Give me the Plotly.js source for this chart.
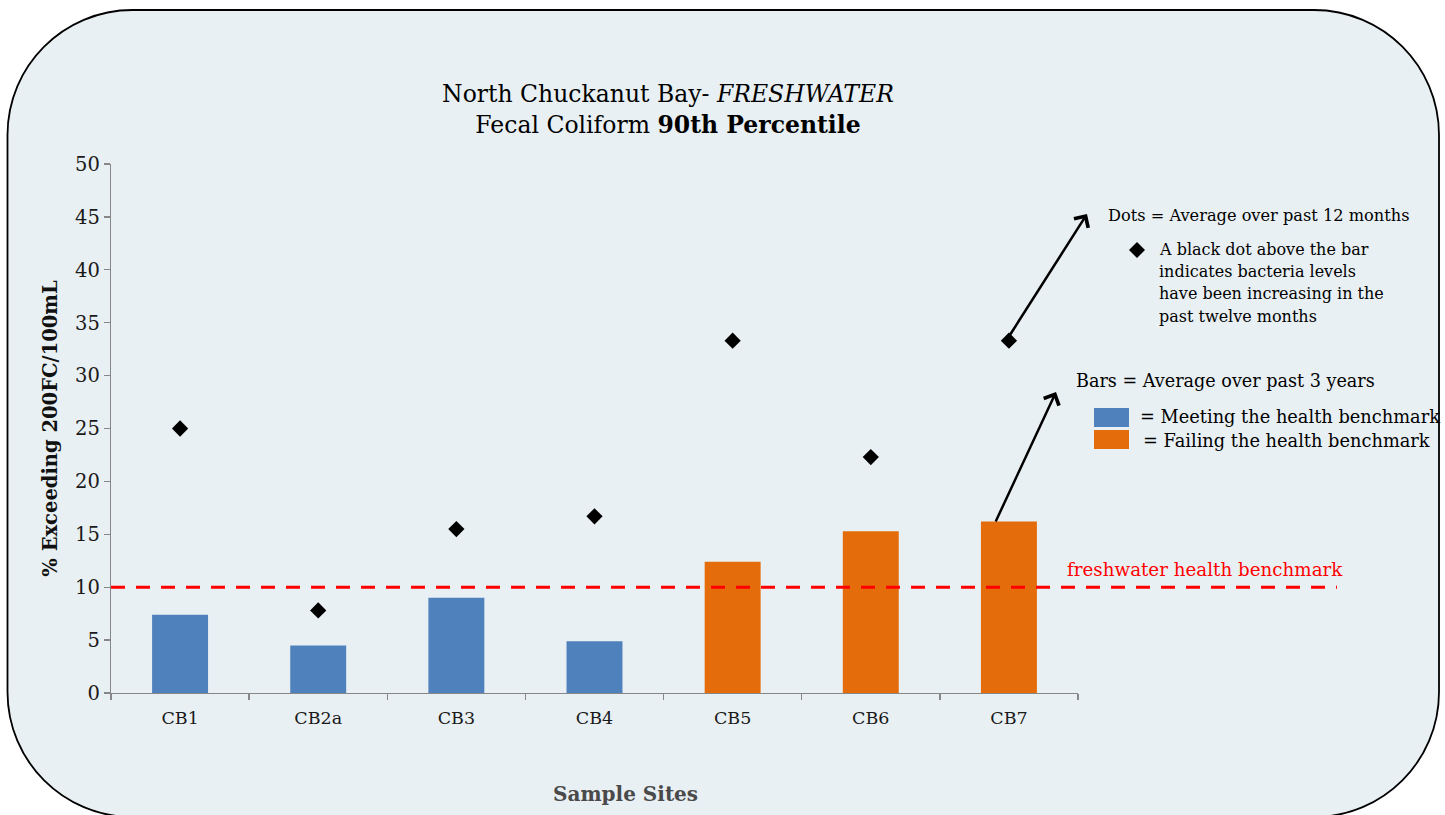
<!DOCTYPE html>
<html><head><meta charset="utf-8">
<script src="https://cdn.plot.ly/plotly-3.0.1.min.js"></script>
<style>html,body{margin:0;padding:0;background:#fff;}#chart{width:1445px;height:815px;}</style>
</head><body><div id="chart"></div>
<script>
// ---- data ----
const sites = ['CB1', 'CB2a', 'CB3', 'CB4', 'CB5', 'CB6', 'CB7'];
const barValues = [7.4, 4.5, 9.0, 4.9, 12.4, 15.3, 16.2];   // average over past 3 years
const dotValues = [25.0, 7.8, 15.5, 16.7, 33.3, 22.3, 33.3]; // average over past 12 months
const benchmark = 10;
const yTickVals = [0, 5, 10, 15, 20, 25, 30, 35, 40, 45, 50];

const titleText = 'North Chuckanut Bay- <i>FRESHWATER</i><br>Fecal Coliform <b>90th Percentile</b>';
const yTitle = '<b>% Exceeding 200FC/100mL</b>';
const xTitle = '<b>Sample Sites</b>';
const benchmarkLabel = 'freshwater health benchmark';
const dotsNote = 'Dots = Average over past 12 months';
const dotsDetail = ['A black dot above the bar', 'indicates bacteria levels', 'have been increasing in the', 'past twelve months'];
const barsNote = 'Bars = Average over past 3 years';
const meetLabel = '= Meeting the health benchmark';
const failLabel = '= Failing the health benchmark';

// ---- style ----
const BLUE = '#4F81BD', ORANGE = '#E46C0A', BG = '#E9F0F3', AX = '#878787';
const FONT = 'DejaVu Serif';
const W = 1445, H = 815;
const M = {l: 111, r: 367, t: 164, b: 122};
const PW = W - M.l - M.r, PH = H - M.t - M.b;
const px = x => (x - M.l) / PW;          // pixel -> paper x
const py = y => (H - M.b - y) / PH;      // pixel -> paper y

// rounded box path (pixel geometry converted to paper)
function roundedBox(x0, y0, x1, y1, r) {
  const k = 0.5523 * r;
  const p = (x, y) => px(x).toFixed(5) + ',' + py(y).toFixed(5);
  return 'M' + p(x0 + r, y0) +
    ' L' + p(x1 - r, y0) +
    ' C' + p(x1 - r + k, y0) + ' ' + p(x1, y0 + r - k) + ' ' + p(x1, y0 + r) +
    ' L' + p(x1, y1 - r) +
    ' C' + p(x1, y1 - r + k) + ' ' + p(x1 - r + k, y1) + ' ' + p(x1 - r, y1) +
    ' L' + p(x0 + r, y1) +
    ' C' + p(x0 + r - k, y1) + ' ' + p(x0, y1 - r + k) + ' ' + p(x0, y1 - r) +
    ' L' + p(x0, y0 + r) +
    ' C' + p(x0, y0 + r - k) + ' ' + p(x0 + r - k, y0) + ' ' + p(x0 + r, y0) + ' Z';
}

const barColors = barValues.map(v => v > benchmark ? ORANGE : BLUE);

const traces = [
  {type: 'bar', x: sites, y: barValues, marker: {color: barColors, line: {width: 0}},
   hoverinfo: 'x+y', cliponaxis: false},
  {type: 'scatter', mode: 'markers', x: sites, y: dotValues,
   marker: {symbol: 'diamond', size: 12.5, color: '#000000'}, hoverinfo: 'x+y', cliponaxis: false}
];

function txt(text, x, y, size, opts) {
  return Object.assign({text: text, xref: 'paper', yref: 'paper', x: px(x), y: py(y),
    xanchor: 'left', yanchor: 'middle', showarrow: false,
    font: {family: FONT, size: size, color: '#000000'}}, opts || {});
}

const annotations = [
  txt(dotsNote, 1106, 215, 16.2),
  txt(dotsDetail[0], 1157, 249, 16),
  txt(dotsDetail[1], 1157, 271, 16),
  txt(dotsDetail[2], 1157, 293, 16),
  txt(dotsDetail[3], 1157, 316, 16),
  txt(barsNote, 1074, 381, 17.6),
  txt(meetLabel, 1138, 416, 17.8),
  txt(failLabel, 1141, 440, 17.8),
  txt(benchmarkLabel, 1065, 569, 18.3, {font: {family: FONT, size: 18.3, color: '#FF0000'}}),
  txt(xTitle, 625, 794, 20, {xanchor: 'center', font: {family: FONT, size: 20, color: '#4A4A4A'}}),
  // arrows
  {text: '', xref: 'paper', yref: 'paper', x: px(1087), y: py(214), ax: -79, ay: 124,
   showarrow: true, arrowhead: 4, arrowsize: 1.3, arrowwidth: 2.5, arrowcolor: '#000000', standoff: 0},
  {text: '', xref: 'paper', yref: 'paper', x: px(1056), y: py(392), ax: -61, ay: 131,
   showarrow: true, arrowhead: 4, arrowsize: 1.3, arrowwidth: 2.5, arrowcolor: '#000000', standoff: 0}
];

const shapes = [
  {type: 'path', xref: 'paper', yref: 'paper', layer: 'below',
   path: roundedBox(7.5, 10, 1439, 817, 125),
   fillcolor: BG, line: {color: '#000000', width: 1.8}},
  {type: 'line', xref: 'paper', yref: 'y', x0: 0, x1: px(1337), y0: benchmark, y1: benchmark,
   line: {color: '#FF0000', width: 3, dash: '14px,11px'}},
  {type: 'rect', xref: 'paper', yref: 'paper', x0: px(1094), x1: px(1129), y0: py(427), y1: py(408),
   fillcolor: BLUE, line: {width: 0}},
  {type: 'rect', xref: 'paper', yref: 'paper', x0: px(1094), x1: px(1129), y0: py(449), y1: py(430),
   fillcolor: ORANGE, line: {width: 0}},
  {type: 'path', xref: 'paper', yref: 'paper', xsizemode: 'pixel', ysizemode: 'pixel',
   xanchor: px(1137), yanchor: py(250), path: 'M0,8 L8,0 L0,-8 L-8,0 Z',
   fillcolor: '#000000', line: {width: 0}}
];

const layout = {
  width: W, height: H,
  margin: {l: M.l, r: M.r, t: M.t, b: M.b, pad: 0},
  paper_bgcolor: '#FFFFFF', plot_bgcolor: 'rgba(0,0,0,0)',
  showlegend: false, bargap: 0.595,
  title: {text: titleText, font: {family: FONT, size: 23.5, color: '#000000'},
          xref: 'paper', x: px(668), xanchor: 'center', yref: 'container', y: 1 - 102 / H, yanchor: 'top'},
  xaxis: {type: 'category', range: [-0.5, sites.length - 0.5], showline: true, linecolor: AX, linewidth: 1.3,
          ticks: 'outside', tickson: 'boundaries', ticklen: 6, tickcolor: AX, tickwidth: 1.3,
          showgrid: false, zeroline: false, fixedrange: true, ticklabelstandoff: 9,
          tickfont: {family: FONT, size: 17.5, color: '#1A1A1A'}},
  yaxis: {range: [0, 50], tickmode: 'array', tickvals: yTickVals, ticktext: yTickVals.map(String),
          showline: true, linecolor: AX, linewidth: 1.3, ticks: 'outside', ticklen: 6, tickcolor: AX, tickwidth: 1.3,
          showgrid: false, zeroline: false, fixedrange: true,
          tickfont: {family: FONT, size: 19.5, color: '#1A1A1A'},
          title: {text: yTitle, font: {family: FONT, size: 19.5, color: '#111111'}, standoff: 12}},
  annotations: annotations,
  shapes: shapes
};

Plotly.newPlot('chart', traces, layout, {displayModeBar: false, staticPlot: true});
</script>
</body></html>
